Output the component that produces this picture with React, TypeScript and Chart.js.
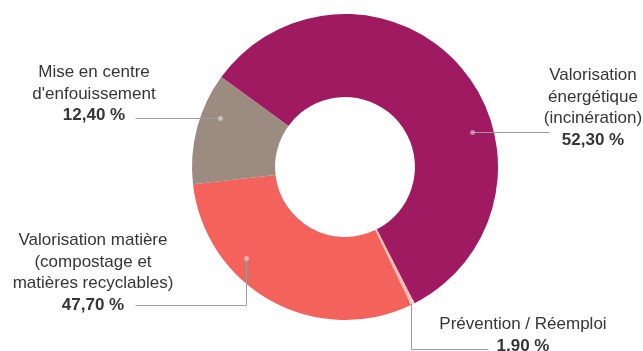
import React, { useEffect, useRef } from "react";
import { Chart, registerables } from "chart.js";

Chart.register(...registerables);

// Data (angles; printed labels as in the reference)
const categories = [
  "Valorisation énergétique (incinération)",
  "Prévention / Réemploi",
  "Valorisation matière (compostage et matières recyclables)",
  "Mise en centre d'enfouissement",
];
const sliceValues = [57.5, 0.4, 30.3, 11.8];
const sliceColors = ["#9f1a61", "#f6bcb4", "#f3625b", "#9b8b80"];
const printedValues = ["52,30 %", "1,90 %", "47,70 %", "12,40 %"];
const labelLines = [
  ["Valorisation", "énergétique", "(incinération)"],
  ["Prévention / Réemploi"],
  ["Valorisation matière", "(compostage et", "matières recyclables)"],
  ["Mise en centre", "d'enfouissement"],
];

// Label layout (positions only)
const labelBoxes = [
  { cx: 593, top: 64 },
  { cx: 523, top: 313 },
  { cx: 93, top: 229 },
  { cx: 94, top: 61 },
];
// leader lines: dot placed inside the arc (fraction of angle, fraction of ring), then elbow points
const leaders = [
  { index: 0, frac: 0.62, rad: 0.74, path: [[549, null]] },
  { index: 1, frac: 0.5, rad: 0.96, path: [[null, 349], [488, null]] },
  { index: 2, frac: 0.67, rad: 0.78, path: [[null, 305], [135, null]] },
  { index: 3, frac: 0.66, rad: 0.77, path: [[135, null]] },
];

const leaderPlugin = {
  id: "leaders",
  afterDatasetsDraw(chart: any) {
    const ctx = chart.ctx;
    const meta = chart.getDatasetMeta(0);
    ctx.save();
    for (const l of leaders) {
      const arc: any = meta.data[l.index];
      const a = arc.startAngle + l.frac * (arc.endAngle - arc.startAngle);
      const r = arc.innerRadius + l.rad * (arc.outerRadius - arc.innerRadius);
      let x = Math.round(arc.x + Math.cos(a) * r) + 0.5;
      let y = Math.round(arc.y + Math.sin(a) * r) + 0.5;
      const dx = x, dy = y;
      ctx.beginPath();
      ctx.moveTo(x, y);
      for (const p of l.path) {
        if (p[0] !== null) x = (p[0] as number) + 0.5;
        if (p[1] !== null) y = (p[1] as number) + 0.5;
        ctx.lineTo(x, y);
      }
      ctx.strokeStyle = "#9c9c9c";
      ctx.lineWidth = 1;
      ctx.stroke();
      ctx.beginPath();
      ctx.arc(dx, dy, 2.5, 0, Math.PI * 2);
      ctx.fillStyle = "rgba(255,255,255,0.45)";
      ctx.fill();
    }
    ctx.restore();
  },
};

export default function App() {
  const ref = useRef<HTMLCanvasElement | null>(null);
  useEffect(() => {
    if (!ref.current) return;
    const chart = new Chart(ref.current, {
      type: "doughnut",
      data: {
        labels: categories,
        datasets: [
          {
            data: sliceValues,
            backgroundColor: sliceColors,
            borderWidth: 0,
          },
        ],
      },
      options: {
        responsive: false,
        animation: false,
        rotation: -54,
        cutout: "45.7%",
        layout: { padding: { top: 14, bottom: 31, left: 192, right: 145 } },
        plugins: { legend: { display: false }, tooltip: { enabled: false } },
      },
      plugins: [leaderPlugin],
    });
    return () => chart.destroy();
  }, []);

  return (
    <div
      style={{
        position: "fixed",
        left: 0,
        top: 0,
        width: 643,
        height: 351,
        background: "#fff",
        overflow: "hidden",
        fontFamily: "'Liberation Sans', Arial, sans-serif",
      }}
    >
      <canvas ref={ref} width={643} height={351} style={{ display: "block" }} />
      {labelBoxes.map((b, i) => (
        <div
          key={i}
          style={{
            position: "absolute",
            left: b.cx,
            top: b.top,
            transform: "translateX(-50%)",
            textAlign: "center",
            whiteSpace: "nowrap",
            fontSize: 17,
            lineHeight: "21.5px",
            color: "#363636",
          }}
        >
          {labelLines[i].map((t, j) => (
            <div key={j}>{t}</div>
          ))}
          <div style={{ fontWeight: "bold" }}>{printedValues[i]}</div>
        </div>
      ))}
    </div>
  );
}
